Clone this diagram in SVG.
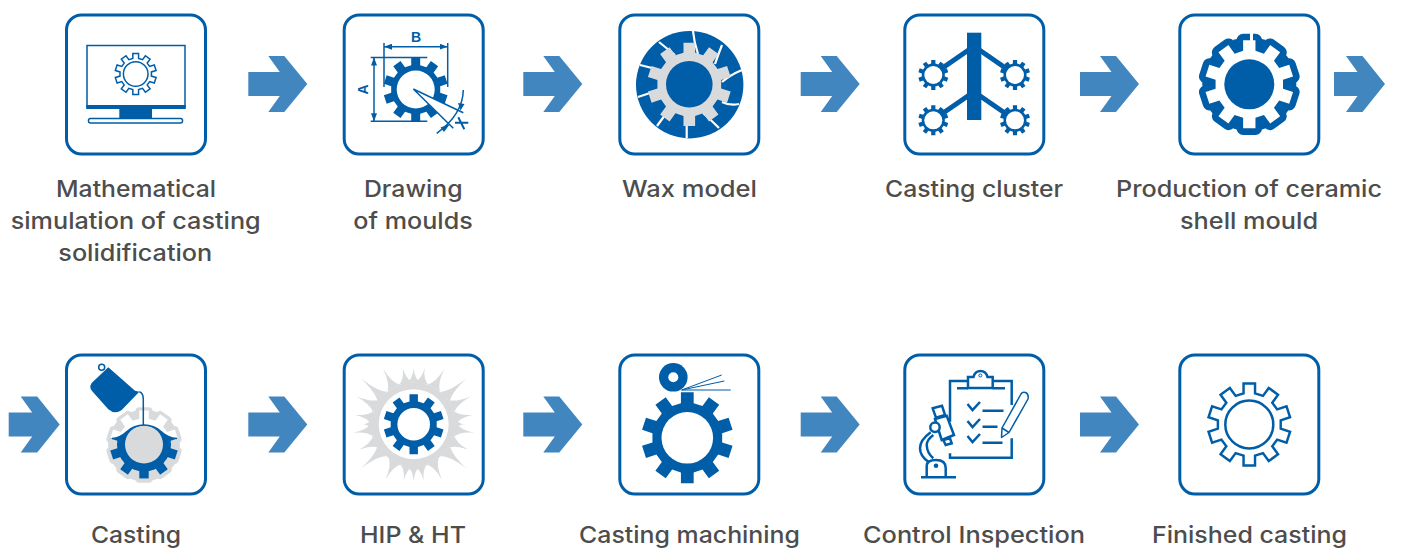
<svg xmlns="http://www.w3.org/2000/svg" width="1401" height="548" viewBox="0 0 1401 548">
<style>
.box{fill:#fff;stroke:#005da8;stroke-width:3}
.arr{fill:#4286c0}
.lbl{font-family:Inter,"Liberation Sans",sans-serif;font-size:23px;font-weight:500;fill:#4d4d4d;text-anchor:middle}
.blue{fill:#005da8}
.ln{fill:none;stroke:#005da8;stroke-width:1.5}
.ln2{fill:none;stroke:#005da8;stroke-width:2.5}
.crack{fill:none;stroke:#fff;stroke-width:2.2}
.dim{font-family:"Liberation Sans",sans-serif;font-weight:700;font-size:14px;fill:#005da8;text-anchor:middle}
</style>
<defs>
<polygon id="gear" points="-14,-76 -14,-100 14,-100 14,-76 33.34,-69.71 47.45,-89.13 70.11,-72.67 56,-53.25 67.95,-36.8 90.78,-44.22 99.44,-17.58 76.61,-10.16 76.61,10.16 99.44,17.58 90.78,44.22 67.95,36.8 56,53.25 70.11,72.67 47.45,89.13 33.34,69.71 14,76 14,100 -14,100 -14,76 -33.34,69.71 -47.45,89.13 -70.11,72.67 -56,53.25 -67.95,36.8 -90.78,44.22 -99.44,17.58 -76.61,10.16 -76.61,-10.16 -99.44,-17.58 -90.78,-44.22 -67.95,-36.8 -56,-53.25 -70.11,-72.67 -47.45,-89.13 -33.34,-69.71"/>
<polygon id="arrL" points="0,-12 31.5,-12 20,-28 36,-28 59,0 36,28 20,28 31.5,12 0,12"/>
<polygon id="arrS" points="0,-12 23.5,-12 12,-28 28.5,-28 51,0 28.5,28 12,28 23.5,12 0,12"/>
<path id="spk" d="M-7,0Q-1,-.25 0,-1Q1,-.25 7,0Z"/>
<marker id="ah" viewBox="0 0 8 6" refX="8" refY="3" markerWidth="8" markerHeight="6" markerUnits="userSpaceOnUse" orient="auto-start-reverse"><path d="M0,0L8,3L0,6Z" fill="#005da8"/></marker>
<clipPath id="lower"><path d="M100,438.500H112Q120,438 127,431.500Q134,425 144,425Q154,425 161,431.500Q168,438 177,438.500H190V490H100Z"/></clipPath>
</defs>
<g id="connectors">
<use href="#arrL" class="arr" x="248.300" y="84"/>
<use href="#arrL" class="arr" x="523.300" y="84"/>
<use href="#arrL" class="arr" x="800.700" y="84"/>
<use href="#arrL" class="arr" x="1080" y="84"/>
<use href="#arrS" class="arr" x="1334" y="84"/>
<use href="#arrS" class="arr" x="8.700" y="424.500"/>
<use href="#arrL" class="arr" x="248.300" y="424.500"/>
<use href="#arrL" class="arr" x="523.300" y="424.500"/>
<use href="#arrL" class="arr" x="800.700" y="424.500"/>
<use href="#arrL" class="arr" x="1080" y="424.500"/>
</g>
<g id="n1">
<rect class="box" x="66.500" y="15" width="139" height="139" rx="15"/>
<rect class="ln" x="87" y="45.500" width="98" height="62"/>
<rect class="blue" x="86.300" y="105" width="99.400" height="4"/>
<rect class="blue" x="119.300" y="109" width="32.700" height="9"/>
<rect class="ln" x="88.500" y="118.500" width="94" height="4.500" rx="2"/>
<use href="#gear" transform="translate(135.700 74) scale(.205)" fill="none" stroke="#005da8" stroke-width="7.300"/>
<circle class="ln" cx="135.700" cy="74" r="12.300"/>
<text class="lbl" x="136" y="197" textLength="160" lengthAdjust="spacingAndGlyphs">Mathematical</text>
<text class="lbl" x="135.700" y="229" textLength="250" lengthAdjust="spacingAndGlyphs">simulation of casting</text>
<text class="lbl" x="135.300" y="261" textLength="154" lengthAdjust="spacingAndGlyphs">solidification</text>
</g>
<g id="n2">
<rect class="box" x="344.200" y="15" width="139" height="139" rx="15"/>
<use href="#gear" class="blue" transform="translate(415.700 89.500) scale(.32)"/>
<circle cx="415.700" cy="89.500" r="19" fill="#fff"/>
<path fill="#fff" d="M413.300 89L443 103L438.500 114Z"/>
<path class="ln" d="M370.700 57.500H427.300M370.700 121.300H427.300M384 43V87M447.700 43V87"/>
<path class="ln" marker-start="url(#ah)" marker-end="url(#ah)" d="M374 57.500V121.300"/>
<path class="ln" marker-start="url(#ah)" marker-end="url(#ah)" d="M384 46.700H447.700"/>
<path class="ln" d="M413.300 89L463.300 112.700M413.300 89L453.300 128.300"/>
<path class="ln" d="M463.300 90C463 105 455 120 436.700 133.300"/>
<path class="blue" d="M458 103L464.500 104L460.500 110.500ZM450 124L440.500 127.500L444 132Z"/>
<path d="M455 122.700H468.300M458.300 117.300L464.300 129.300" fill="none" stroke="#005da8" stroke-width="2"/>
<text class="dim" x="416" y="41.500">B</text>
<text class="dim" transform="translate(368 89.500) rotate(-90)">A</text>
<text class="lbl" x="413.300" y="197" textLength="98.700" lengthAdjust="spacingAndGlyphs">Drawing</text>
<text class="lbl" x="413" y="229" textLength="119.400" lengthAdjust="spacingAndGlyphs">of moulds</text>
</g>
<g id="n3">
<rect class="box" x="619.800" y="15" width="139" height="139" rx="15"/>
<circle class="blue" cx="689.700" cy="84.700" r="53.700"/>
<path class="crack" d="M693 31Q694 42 698 54M722 45Q718 55 715 64M742 70Q730 75 722 82M739 104Q730 106 722 102M719 128Q711 120 703 113M686.700 138V123M657 126L665 115M638 97L650 93M640 65L652 68M659 42L675 55"/>
<use href="#gear" fill="#d9dadc" transform="translate(689.300 84.300) scale(.416)"/>
<circle class="blue" cx="689.300" cy="84.300" r="23.300"/>
<text class="lbl" x="689.500" y="197" textLength="135" lengthAdjust="spacingAndGlyphs">Wax model</text>
</g>
<g id="n4">
<rect class="box" x="904.800" y="15" width="139" height="139" rx="15"/>
<path fill="none" stroke="#005da8" stroke-width="5" d="M970 49L941 69M978 49L1007 69M970 94.500L941 114.500M978 94.500L1007 114.500"/>
<rect class="blue" x="967" y="32.700" width="14.300" height="87.300"/>
<g transform="translate(933.300 75)"><use href="#gear" class="blue" transform="scale(.15)"/><circle r="9" fill="#fff"/></g>
<g transform="translate(1015 75)"><use href="#gear" class="blue" transform="scale(.15)"/><circle r="9" fill="#fff"/></g>
<g transform="translate(933.300 120.300)"><use href="#gear" class="blue" transform="scale(.15)"/><circle r="9" fill="#fff"/></g>
<g transform="translate(1015 120.300)"><use href="#gear" class="blue" transform="scale(.15)"/><circle r="9" fill="#fff"/></g>
<text class="lbl" x="974" y="197" textLength="178" lengthAdjust="spacingAndGlyphs">Casting cluster</text>
</g>
<g id="n5">
<rect class="box" x="1179.800" y="15" width="139" height="139" rx="15"/>
<circle class="blue" cx="1249.300" cy="84.300" r="47"/>
<use href="#gear" class="blue" transform="translate(1249.300 84.300) scale(.44)" stroke="#005da8" stroke-width="30" stroke-linejoin="round"/>
<use href="#gear" fill="#fff" transform="translate(1249.300 84.300) scale(.44)"/>
<rect x="1250" y="31" width="3" height="10" fill="#fff"/>
<circle class="blue" cx="1249.300" cy="84.300" r="25"/>
<text class="lbl" x="1249" y="197" textLength="266" lengthAdjust="spacingAndGlyphs">Production of ceramic</text>
<text class="lbl" x="1249" y="229" textLength="138" lengthAdjust="spacingAndGlyphs">shell mould</text>
</g>
<g id="n6">
<rect class="box" x="66.500" y="355" width="139" height="139" rx="15"/>
<circle cx="144" cy="445.500" r="36" fill="#d9dadc"/>
<use href="#gear" fill="#d9dadc" stroke="#d9dadc" stroke-width="22" stroke-linejoin="round" transform="translate(144 445) scale(.34)"/>
<use href="#gear" fill="#fff" transform="translate(144 444.500) scale(.34)"/>
<g clip-path="url(#lower)"><use href="#gear" class="blue" transform="translate(144 444.500) scale(.34)"/><circle cx="144" cy="444.500" r="27" class="blue"/></g>
<circle cx="144" cy="444.500" r="19" fill="#d9dadc"/>
<path class="ln" d="M112 438.500Q120 438 127 431.500Q134 425 144 425Q154 425 161 431.500Q168 438 177 438.500"/>
<path class="blue" d="M94 380.700L108.300 367.300L135 390.700L139.300 391.700L121.700 410Q115 415 108.300 409.300L92.700 391.700Q87 386 94 380.700Z"/>
<circle class="ln" cx="101.700" cy="367.300" r="3"/>
<path class="ln" d="M139.300 391.700Q143.300 393 143.300 399V425"/>
<text class="lbl" x="136" y="543" textLength="90" lengthAdjust="spacingAndGlyphs">Casting</text>
</g>
<g id="n7">
<rect class="box" x="344.200" y="355" width="139" height="139" rx="15"/>
<g fill="#d9dadc">
<circle cx="413.700" cy="424.200" r="42"/>
<g transform="translate(413.700 424.200)">
<use href="#spk" transform="rotate(0) translate(0 -41.500) scale(1 14.500)"/>
<use href="#spk" transform="rotate(11) translate(0 -41.500) scale(1 15.500)"/>
<use href="#spk" transform="rotate(29) translate(0 -41.500) scale(1 21.500)"/>
<use href="#spk" transform="rotate(49) translate(0 -41.500) scale(1 28.500)"/>
<use href="#spk" transform="rotate(64) translate(0 -41.500) scale(1 22.500)"/>
<use href="#spk" transform="rotate(81) translate(0 -41.500) scale(1 18.500)"/>
<use href="#spk" transform="rotate(90) translate(0 -41.500) scale(1 8.500)"/>
<use href="#spk" transform="rotate(98) translate(0 -41.500) scale(1 19.500)"/>
<use href="#spk" transform="rotate(115) translate(0 -41.500) scale(1 18.500)"/>
<use href="#spk" transform="rotate(130) translate(0 -41.500) scale(1 27.500)"/>
<use href="#spk" transform="rotate(153) translate(0 -41.500) scale(1 20.500)"/>
<use href="#spk" transform="rotate(170) translate(0 -41.500) scale(1 15.500)"/>
<use href="#spk" transform="rotate(180) translate(0 -41.500) scale(1 15.500)"/>
<use href="#spk" transform="rotate(-11) translate(0 -41.500) scale(1 15.500)"/>
<use href="#spk" transform="rotate(-29) translate(0 -41.500) scale(1 21.500)"/>
<use href="#spk" transform="rotate(-49) translate(0 -41.500) scale(1 28.500)"/>
<use href="#spk" transform="rotate(-64) translate(0 -41.500) scale(1 22.500)"/>
<use href="#spk" transform="rotate(-81) translate(0 -41.500) scale(1 18.500)"/>
<use href="#spk" transform="rotate(-90) translate(0 -41.500) scale(1 8.500)"/>
<use href="#spk" transform="rotate(-98) translate(0 -41.500) scale(1 19.500)"/>
<use href="#spk" transform="rotate(-115) translate(0 -41.500) scale(1 18.500)"/>
<use href="#spk" transform="rotate(-130) translate(0 -41.500) scale(1 27.500)"/>
<use href="#spk" transform="rotate(-153) translate(0 -41.500) scale(1 20.500)"/>
<use href="#spk" transform="rotate(-170) translate(0 -41.500) scale(1 15.500)"/>
</g></g>
<circle cx="413.700" cy="424.200" r="35" fill="#fff"/>
<use href="#gear" class="blue" transform="translate(413.700 424.200) scale(.3)"/>
<circle cx="413.700" cy="424.200" r="16.300" fill="#fff"/>
<text class="lbl" x="413" y="543" textLength="106" lengthAdjust="spacingAndGlyphs">HIP &amp; HT</text>
</g>
<g id="n8">
<rect class="box" x="619.800" y="355" width="139" height="139" rx="15"/>
<use href="#gear" class="blue" transform="translate(687.300 437.800) scale(.455)"/>
<circle cx="687.300" cy="437.800" r="25.800" fill="#fff"/>
<circle class="blue" cx="673.300" cy="377.300" r="14.300"/>
<circle cx="673.300" cy="377.300" r="5" fill="#fff"/>
<path d="M681.700 390L721.700 375M681.700 390L724.300 381M681.700 390H730.700" fill="none" stroke="#005da8"/>
<text class="lbl" x="689.500" y="543" textLength="221" lengthAdjust="spacingAndGlyphs">Casting machining</text>
</g>
<g id="n9">
<rect class="box" x="904.800" y="355" width="139" height="139" rx="15"/>
<path class="ln2" d="M950 421.700V381H968M992.700 381H1011.700V405M1011.700 438.300V457.700H950V453.300M957 388.300H968M992.700 388.300H1005"/>
<path class="ln2" d="M968 388V377H973.500Q975 371 980.500 371Q986 371 987.500 377H992.700V388Z"/>
<circle cx="980.300" cy="375.500" r="1.500" fill="none" stroke="#005da8"/>
<path class="ln2" d="M967.500 404L972.500 410L980 402M967.500 421L972.500 427L980 419M967.500 436L972.500 442L980 434"/>
<path class="ln2" d="M982.500 410.700H1003.500M982.500 426.700H997.500M982.500 442.700H1002.500"/>
<path class="ln" stroke-linejoin="round" d="M1021 394L1002 428L1001.500 437.500L1009 432.500L1028 399Q1029 394 1025.500 392.500Q1022.500 391.500 1021 394ZM1002 428L1009 432.500"/>
<path class="ln2" d="M932.700 408.300L942 405.700L945 415L936 417.700Z"/>
<path class="ln2" d="M935 419L946.700 415.700L954 435L941.700 440Z"/>
<path class="ln2" d="M943.300 440L950 438.300L951.700 443.300L945.700 445Z"/>
<circle cx="935" cy="427.300" r="4.700" fill="#fff" stroke="#005da8" stroke-width="2.500"/>
<path class="ln2" d="M930.700 432.300Q920 440 920 448.300Q920 456 928.300 461.700M933.300 435Q926.700 440 926.700 445Q927 453 933.300 458.300"/>
<path class="ln2" d="M926.700 476V466Q926.700 460 936 460Q945.700 460 945.700 468V476"/>
<circle class="blue" cx="936" cy="465.700" r="2.300"/>
<path class="ln2" d="M921 477.300H956"/>
<text class="lbl" x="974" y="543" textLength="222" lengthAdjust="spacingAndGlyphs">Control Inspection</text>
</g>
<g id="n10">
<rect class="box" x="1179.800" y="355" width="139" height="139" rx="15"/>
<use href="#gear" transform="translate(1249.300 424.500) scale(.41)" fill="none" stroke="#005da8" stroke-width="6"/>
<circle cx="1249.300" cy="424.500" r="24" fill="none" stroke="#005da8" stroke-width="2.500"/>
<text class="lbl" x="1249.500" y="543" textLength="195" lengthAdjust="spacingAndGlyphs">Finished casting</text>
</g>
</svg>
